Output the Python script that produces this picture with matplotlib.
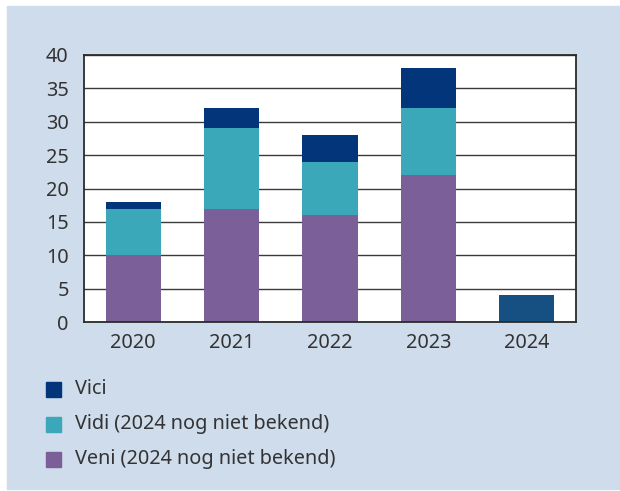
import matplotlib
matplotlib.use("Agg")
import matplotlib.pyplot as plt
from matplotlib.patches import Rectangle
import numpy as np

plt.rcParams['font.family'] = ['Noto Sans', 'DejaVu Sans']

years = ['2020', '2021', '2022', '2023', '2024']
veni = [10, 17, 16, 22, 0]
vidi = [7, 12, 8, 10, 0]
vici = [1, 3, 4, 6, 4]

c_vici = '#02357a'
c_vici24 = '#165082'
c_vidi = '#3aa8b8'
c_veni = '#7b5f99'
txt = '#333333'
bg = '#cfdcec'
fs = 14.3

W, H = 620, 491
fig = plt.figure(figsize=(6.2, 4.91), dpi=100, facecolor='white')
fig.add_artist(Rectangle((7 / W, 2 / H), 1 - 7 / W, (H - 8) / H,
                         transform=fig.transFigure, color=bg, zorder=0))

ax = fig.add_axes([84 / W, (H - 322) / H, 492 / W, 267 / H])
ax.set_facecolor('white')

x = np.arange(len(years))
bw = 0.56
vici_cols = [c_vici] * 4 + [c_vici24]
bot = np.array(veni) + np.array(vidi)
ax.bar(x, veni, bw, color=c_veni, zorder=3)
ax.bar(x, vidi, bw, bottom=veni, color=c_vidi, zorder=3)
ax.bar(x, vici, bw, bottom=bot, color=vici_cols, zorder=3)

ax.set_xlim(-0.5, 4.5)
ax.set_ylim(0, 40)
ax.set_yticks(range(0, 41, 5))
ax.set_xticks(x)
ax.set_xticklabels(years)
ax.yaxis.grid(True, color='#3a3a3a', linewidth=1.0, zorder=1)
ax.set_axisbelow(True)
ax.tick_params(length=0, labelsize=fs, labelcolor=txt)
ax.tick_params(axis='y', pad=11)
ax.tick_params(axis='x', pad=8)
for s in ax.spines.values():
    s.set_color('#2b2b2b')
    s.set_linewidth(1.3)
    s.set_zorder(4)

# legend
labels = ['Vici', 'Vidi (2024 nog niet bekend)', 'Veni (2024 nog niet bekend)']
cols = [c_vici, c_vidi, c_veni]
rows = [389, 424, 459]
for lab, c, yy in zip(labels, cols, rows):
    fig.add_artist(Rectangle((46 / W, (H - yy - 7.5) / H), 15 / W, 15 / H,
                             transform=fig.transFigure, color=c))
    fig.text(75 / W, (H - yy) / H, lab, fontsize=fs, color=txt,
             va='center', ha='left')

fig.savefig('out.png', dpi=100, facecolor='white')
